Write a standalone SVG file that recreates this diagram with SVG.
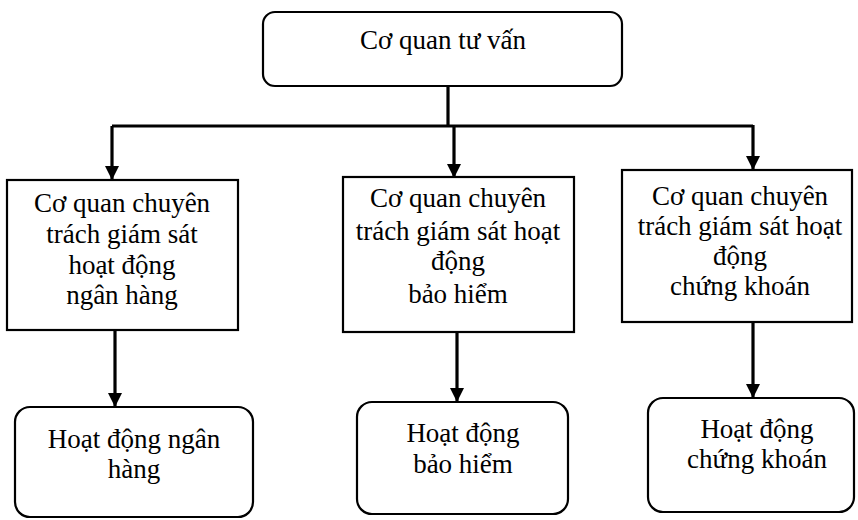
<svg xmlns="http://www.w3.org/2000/svg" width="858" height="520" viewBox="0 0 858 520">
  <style>
    .box { fill: #fff; stroke: #000; stroke-width: 2.2; }
    .lbl { font-family: "Liberation Serif", "DejaVu Serif", serif; font-size: 27px; fill: #000; text-anchor: middle; }
    .wire { fill: none; stroke: #000; stroke-width: 3.2; }
  </style>
  <defs>
    <marker id="arrow" viewBox="0 0 14 14" refX="13" refY="7" markerWidth="14" markerHeight="14" markerUnits="userSpaceOnUse" orient="auto">
      <path d="M0,0 L14,7 L0,14 Z" fill="#000"/>
    </marker>
  </defs>
  <rect width="858" height="520" fill="#fff"/>

  <g id="connectors">
    <path class="wire" d="M448,86 V125"/>
    <path class="wire" d="M112,126 H753"/>
    <path class="wire" d="M112,126 V179" marker-end="url(#arrow)"/>
    <path class="wire" d="M454,125 V177" marker-end="url(#arrow)"/>
    <path class="wire" d="M753,125 V169" marker-end="url(#arrow)"/>
    <path class="wire" d="M115,331 V406" marker-end="url(#arrow)"/>
    <path class="wire" d="M457,333 V401" marker-end="url(#arrow)"/>
    <path class="wire" d="M753,323 V397" marker-end="url(#arrow)"/>
  </g>

  <g id="co-quan-tu-van">
    <rect class="box" x="263" y="12" width="359" height="74" rx="12"/>
    <text class="lbl" x="443" y="49">Cơ quan tư vấn</text>
  </g>

  <g id="giam-sat-ngan-hang">
    <rect class="box" x="7" y="180" width="231" height="150"/>
    <text class="lbl" x="122" y="212">Cơ quan chuyên</text>
    <text class="lbl" x="122" y="243">trách giám sát</text>
    <text class="lbl" x="122" y="274">hoạt động</text>
    <text class="lbl" x="122" y="304">ngân hàng</text>
  </g>

  <g id="giam-sat-bao-hiem">
    <rect class="box" x="343" y="177" width="231" height="155"/>
    <text class="lbl" x="458" y="207">Cơ quan chuyên</text>
    <text class="lbl" x="458" y="240">trách giám sát hoạt</text>
    <text class="lbl" x="458" y="270">động</text>
    <text class="lbl" x="458" y="303">bảo hiểm</text>
  </g>

  <g id="giam-sat-chung-khoan">
    <rect class="box" x="622" y="170" width="230" height="152"/>
    <text class="lbl" x="740" y="205">Cơ quan chuyên</text>
    <text class="lbl" x="740" y="235">trách giám sát hoạt</text>
    <text class="lbl" x="740" y="265">động</text>
    <text class="lbl" x="740" y="295">chứng khoán</text>
  </g>

  <g id="hoat-dong-ngan-hang">
    <rect class="box" x="15" y="407" width="238" height="110" rx="15"/>
    <text class="lbl" x="134" y="448">Hoạt động ngân</text>
    <text class="lbl" x="134" y="478">hàng</text>
  </g>

  <g id="hoat-dong-bao-hiem">
    <rect class="box" x="357" y="402" width="211" height="112" rx="15"/>
    <text class="lbl" x="463" y="442">Hoạt động</text>
    <text class="lbl" x="463" y="473">bảo hiểm</text>
  </g>

  <g id="hoat-dong-chung-khoan">
    <rect class="box" x="648" y="398" width="206" height="114" rx="15"/>
    <text class="lbl" x="757" y="438">Hoạt động</text>
    <text class="lbl" x="757" y="468">chứng khoán</text>
  </g>
</svg>
